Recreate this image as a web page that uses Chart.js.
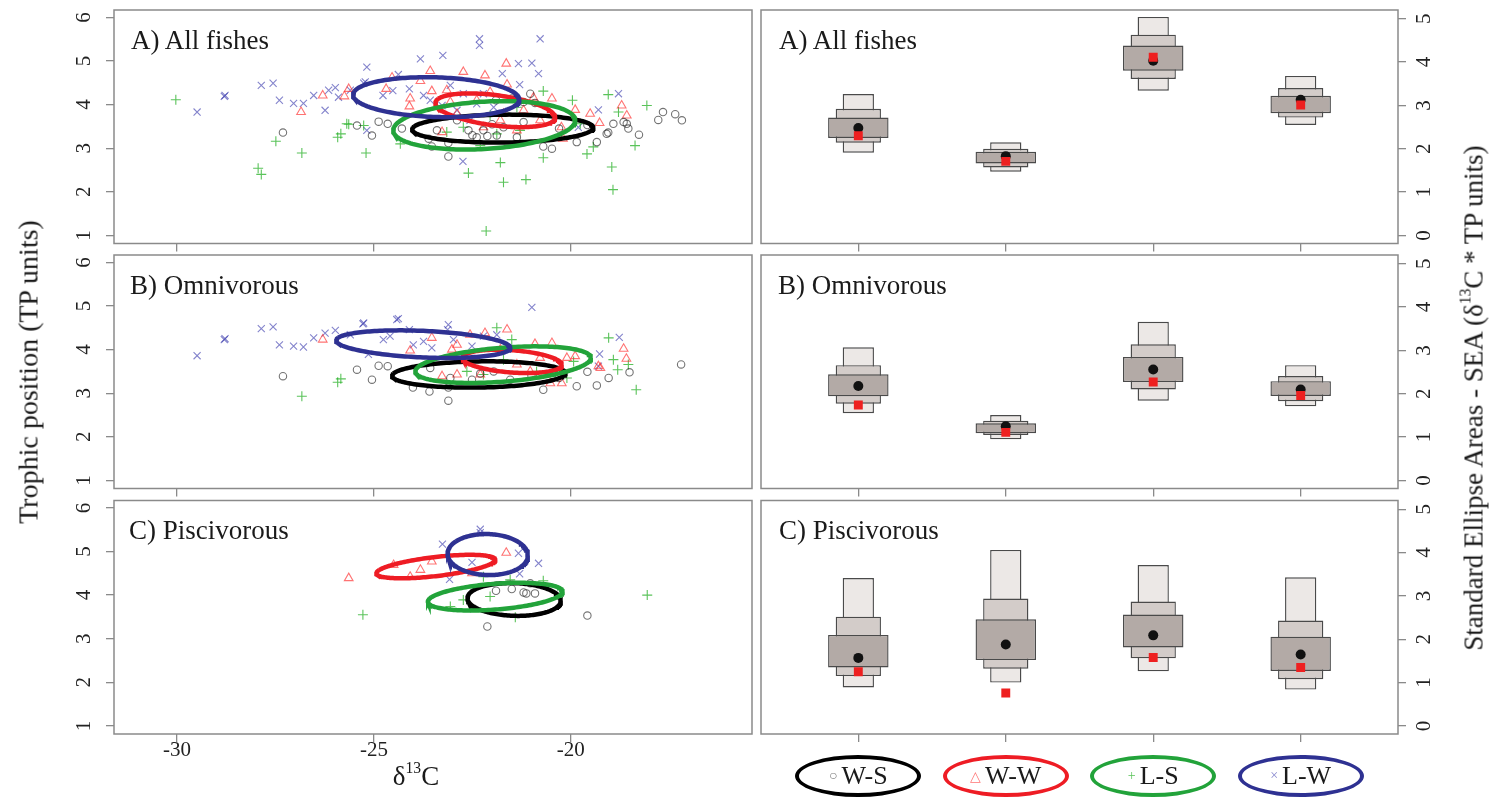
<!DOCTYPE html>
<html><head><meta charset="utf-8">
<script src="https://cdn.jsdelivr.net/npm/chart.js@4.4.0/dist/chart.umd.min.js"></script>
<style>
html,body{margin:0;padding:0;background:#fff;width:1497px;height:800px;overflow:hidden;font-family:"Liberation Serif","Times New Roman",serif;}
canvas{position:absolute;left:0;top:0;}
.lbl{position:absolute;font-size:27px;color:#1a1a1a;white-space:nowrap;line-height:27px;}
.title{position:absolute;font-size:27px;color:#1a1a1a;white-space:nowrap;line-height:27px;transform:translate(-50%,-50%);}
.rot{transform:translate(-50%,-50%) rotate(-90deg);}
sup{font-size:58%;vertical-align:0.75em;line-height:0;}
.leg{position:absolute;width:118px;height:34px;border-radius:50%;border:4.5px solid #000;transform:translate(-50%,-50%);display:flex;align-items:center;justify-content:center;font-size:26px;color:#1a1a1a;}
.leg .m{font-size:14px;margin-right:4px;}
</style></head><body>
<canvas id="lA" width="1497" height="800"></canvas>
<canvas id="lB" width="1497" height="800"></canvas>
<canvas id="lC" width="1497" height="800"></canvas>
<canvas id="rA" width="1497" height="800"></canvas>
<canvas id="rB" width="1497" height="800"></canvas>
<canvas id="rC" width="1497" height="800"></canvas>
<div class="lbl" style="left:131px;top:27px">A) All fishes</div>
<div class="lbl" style="left:130px;top:272px">B) Omnivorous</div>
<div class="lbl" style="left:129px;top:517px">C) Piscivorous</div>
<div class="lbl" style="left:779px;top:27px">A) All fishes</div>
<div class="lbl" style="left:778px;top:272px">B) Omnivorous</div>
<div class="lbl" style="left:779px;top:517px">C) Piscivorous</div>
<div class="title rot" style="left:28px;top:372px;font-size:28px">Trophic position (TP units)</div>
<div class="title" style="left:416px;top:776px">δ<sup>13</sup>C</div>
<div class="title rot" style="left:1474px;top:398px">Standard Ellipse Areas - SEA (δ<sup>13</sup>C * TP units)</div>
<div id="legend"></div>
<script>
// ---------- groups ----------
const groups = ['W-S', 'W-W', 'L-S', 'L-W'];
const groupColors = ['#000000', '#ee1c24', '#22a33a', '#2e3192'];
const pointColors = ['rgba(0,0,0,0.55)', 'rgba(255,40,40,0.65)', 'rgba(20,170,20,0.7)', 'rgba(50,50,170,0.6)'];
const pointStyles = ['circle', 'triangle', 'cross', 'crossRot'];
const legendMarks = ['○', '△', '+', '×'];

// ---------- axes ----------
const xTicks = [-30, -25, -20];
const xTickLabels = ['-30', '-25', '-20'];
const tpTicks = [1, 2, 3, 4, 5, 6];
const seaTicks = [0, 1, 2, 3, 4, 5];

// ---------- A) All fishes: points [d13C, TP] ----------
const A_WS = [[-27.31,3.36],[-25.43,3.52],[-25.05,3.29],[-24.88,3.61],[-24.65,3.56],[-24.29,3.45],[-23.61,3.22],[-23.11,3.12],[-23.11,2.81],[-23.53,3.04],[-21.03,4.25],[-22.60,3.41],[-22.22,3.41],[-21.88,3.29],[-21.37,3.25],[-20.70,3.04],[-20.48,2.99],[-19.85,3.14],[-19.34,3.14],[-19.09,3.33],[-22.89,3.64],[-21.71,3.48],[-22.39,3.25],[-23.40,3.41],[-17.66,3.83],[-17.35,3.78],[-17.18,3.64],[-17.78,3.65],[-18.27,3.31],[-18.54,3.45],[-18.58,3.56],[-18.66,3.60],[-18.92,3.56],[-19.05,3.36],[-22.0,3.55],[-21.2,3.60],[-20.3,3.45],[-22.5,3.30],[-22.12,3.28],[-19.58,3.53],[-21.90,4.10],[-21.50,4.14],[-21.20,4.06],[-20.91,4.04]];
const A_WW = [[-26.85,3.83],[-26.30,4.21],[-25.75,4.19],[-25.64,4.36],[-24.69,4.36],[-24.54,4.62],[-23.82,4.54],[-23.57,4.77],[-22.73,4.75],[-22.18,4.67],[-21.64,4.94],[-21.62,4.46],[-23.53,4.31],[-24.08,4.14],[-24.10,3.96],[-23.15,4.33],[-23.06,4.06],[-22.39,4.10],[-22.05,4.29],[-20.95,4.16],[-20.48,4.14],[-19.89,3.88],[-19.51,3.79],[-19.27,3.58],[-20.24,3.48],[-20.20,3.22],[-23.27,3.37],[-22.89,3.79],[-21.79,3.64],[-21.37,3.41],[-20.78,3.64],[-22.22,3.48],[-21.20,3.87],[-21.71,3.79],[-18.71,3.98],[-18.58,3.75]];
const A_LS = [[-30.03,4.11],[-27.49,3.16],[-26.83,2.89],[-27.94,2.54],[-27.86,2.40],[-25.92,3.25],[-25.84,3.33],[-25.64,3.55],[-25.20,2.89],[-25.26,3.52],[-20.70,4.31],[-19.96,4.10],[-19.05,4.23],[-18.07,3.98],[-18.79,3.83],[-18.37,3.06],[-18.96,2.57],[-18.93,2.05],[-19.59,2.87],[-19.43,3.03],[-20.70,2.78],[-21.14,2.28],[-21.71,2.22],[-21.79,2.67],[-22.60,2.43],[-22.15,1.10],[-19.76,3.56],[-22.30,3.06],[-24.33,3.10],[-22.73,3.48],[-23.15,3.37],[-21.88,3.33],[-21.29,3.41],[-22.05,3.75],[-21.37,3.94],[-25.69,3.56]];
const A_LW = [[-29.49,3.83],[-28.80,4.19],[-28.78,4.21],[-27.86,4.44],[-27.56,4.49],[-27.40,4.10],[-27.04,4.03],[-26.79,4.03],[-26.53,4.21],[-26.24,3.87],[-26.15,4.33],[-25.98,4.39],[-25.90,4.17],[-25.60,4.33],[-25.26,4.49],[-25.18,4.86],[-25.18,3.41],[-25.22,4.52],[-23.82,5.05],[-23.25,5.13],[-22.32,5.51],[-22.32,5.36],[-20.78,5.51],[-21.33,4.94],[-20.99,4.95],[-20.82,4.71],[-21.74,4.71],[-21.30,4.46],[-24.38,4.69],[-24.52,4.32],[-24.77,4.21],[-24.10,4.36],[-23.74,4.21],[-23.06,4.44],[-22.73,4.25],[-22.22,4.25],[-22.39,4.02],[-21.96,3.94],[-22.89,3.87],[-23.27,3.98],[-23.57,4.10],[-22.74,2.70],[-19.30,3.88],[-19.81,3.48],[-22.56,3.64],[-18.79,4.25]];

// ---------- B) Omnivorous ----------
const B_WS = [[-27.31,3.39],[-25.43,3.54],[-24.88,3.63],[-24.65,3.62],[-25.05,3.31],[-24.01,3.13],[-23.59,3.04],[-23.11,3.13],[-23.11,2.83],[-22.51,3.31],[-20.70,3.08],[-19.85,3.16],[-19.58,3.49],[-19.34,3.18],[-19.04,3.35],[-23.57,3.58],[-21.96,3.50],[-21.54,3.31],[-23.06,3.35],[-17.20,3.66],[-18.51,3.48],[-22.30,3.45],[-21.00,3.40],[-20.30,3.35]];
const B_WW = [[-26.30,4.23],[-23.53,4.27],[-22.89,4.11],[-23.02,4.00],[-24.08,3.98],[-22.56,4.34],[-22.18,4.38],[-21.62,4.46],[-21.79,4.00],[-20.91,4.13],[-20.48,4.15],[-20.78,3.81],[-20.10,3.81],[-19.89,3.85],[-19.25,3.58],[-23.27,3.39],[-22.89,3.43],[-21.03,3.50],[-20.52,3.23],[-20.23,3.23],[-21.37,3.66],[-22.30,3.43],[-18.66,4.02],[-18.59,3.79],[-19.30,3.62]];
const B_LS = [[-26.83,2.93],[-25.92,3.25],[-25.84,3.33],[-21.88,4.50],[-21.50,4.23],[-19.93,3.73],[-19.04,4.27],[-22.64,3.50],[-22.22,3.43],[-21.71,3.77],[-20.87,3.50],[-20.10,3.35],[-18.34,3.08],[-18.54,3.66],[-18.81,3.54],[-18.92,3.77]];
const B_LW = [[-29.49,3.86],[-28.80,4.23],[-28.78,4.25],[-27.86,4.48],[-27.56,4.52],[-27.40,4.11],[-27.04,4.08],[-26.79,4.06],[-26.53,4.27],[-26.24,4.38],[-25.98,4.44],[-25.60,4.34],[-25.26,4.61],[-24.42,4.69],[-25.28,4.59],[-24.38,4.71],[-24.10,4.46],[-24.76,4.23],[-24.59,4.31],[-23.11,4.57],[-23.13,4.46],[-23.74,4.19],[-24.00,4.11],[-23.53,4.04],[-22.98,4.23],[-22.51,4.08],[-22.22,4.31],[-20.99,4.97],[-21.88,4.34],[-19.27,3.90],[-19.30,3.62],[-25.14,3.89],[-18.77,4.28]];

// ---------- C) Piscivorous ----------
const C_WS = [[-22.12,3.28],[-19.58,3.53],[-21.90,4.10],[-21.50,4.14],[-21.20,4.06],[-21.13,4.04],[-20.91,4.04],[-21.03,4.27]];
const C_WW = [[-25.64,4.39],[-21.64,4.97],[-23.82,4.58],[-24.08,4.42],[-22.51,4.50],[-23.53,4.77],[-24.50,4.69]];
const C_LS = [[-25.28,3.55],[-20.70,4.33],[-21.41,3.49],[-22.22,4.42],[-22.05,3.97],[-22.73,3.89],[-23.06,3.74],[-21.54,4.35],[-18.06,4.00]];
const C_LW = [[-22.30,5.51],[-22.30,5.43],[-23.26,5.17],[-21.33,4.96],[-20.82,4.73],[-21.30,4.49],[-23.08,4.36],[-22.51,4.75]];

// ---------- standard ellipses: [centre d13C, centre TP, half-width d13C, TP shift at tips, TP half-height] ----------
const ellA = [[-21.73,3.45,2.30,0.02,0.32],[-21.92,3.87,1.52,-0.165,0.35],[-22.20,3.525,2.31,0.115,0.543],[-23.42,4.17,2.11,-0.055,0.455]];
const ellB = [[-22.34,3.43,2.20,0.03,0.30],[-21.49,3.73,1.26,-0.08,0.256],[-21.72,3.655,2.23,0.155,0.39],[-23.75,4.125,2.21,-0.085,0.305]];
const ellC = [[-21.44,3.90,1.185,-0.03,0.375],[-23.43,4.655,1.51,0.155,0.22],[-21.92,3.965,1.71,0.115,0.296],[-22.11,4.93,1.02,-0.02,0.47]];

// ---------- SEA credible intervals [low, high] per group ----------
const seaA_95 = [[1.91,3.26],[1.47,2.15],[3.34,5.04],[2.55,3.68]];
const seaA_75 = [[2.14,2.92],[1.57,2.00],[3.61,4.63],[2.72,3.40]];
const seaA_50 = [[2.25,2.72],[1.66,1.93],[3.80,4.38],[2.82,3.22]];
const seaA_mode = [2.48,1.83,4.03,3.13];
const seaA_c = [2.30,1.71,4.11,3.01];

const seaB_95 = [[1.55,3.07],[0.95,1.51],[1.84,3.66],[1.71,2.66]];
const seaB_75 = [[1.77,2.66],[1.05,1.38],[2.10,3.14],[1.83,2.41]];
const seaB_50 = [[1.94,2.45],[1.09,1.32],[2.27,2.85],[1.95,2.29]];
const seaB_mode = [2.18,1.25,2.56,2.10];
const seaB_c = [1.74,1.11,2.27,1.96];

const seaC_95 = [[0.89,3.41],[1.00,4.06],[1.26,3.71],[0.84,3.43]];
const seaC_75 = [[1.15,2.52],[1.32,2.94],[1.56,2.87],[1.08,2.43]];
const seaC_50 = [[1.35,2.10],[1.52,2.46],[1.81,2.57],[1.27,2.06]];
const seaC_mode = [1.57,1.88,2.09,1.65];
const seaC_c = [1.25,0.76,1.58,1.35];

// ---------- layout ----------
const W = 1497, H = 800;
const rowTops = [10, 255, 500.5];
const panelH = 233.5;
const leftBox = [114, 752];
const rightBox = [761, 1398];
const axisCol = '#8a8a8a';
const tickFont = {family: '"Liberation Serif", serif', size: 21};

const framePlugin = {
  id: 'frame',
  afterDraw(chart) {
    const {ctx, chartArea: a} = chart;
    ctx.save();
    ctx.strokeStyle = axisCol;
    ctx.lineWidth = 1.5;
    ctx.strokeRect(a.left, a.top, a.right - a.left, a.bottom - a.top);
    ctx.restore();
  }
};

function fixed(size) {
  return (s) => {
    if (s.isHorizontal()) s.height = size; else s.width = size;
    s.paddingTop = 0; s.paddingBottom = 0; s.paddingLeft = 0; s.paddingRight = 0;
  };
}
function setTicks(vals) { return (s) => { s.ticks = vals.map(v => ({value: v})); }; }

function ellipsePoints(p) {
  const [cx, cy, a, b, c] = p;
  const pts = [];
  for (let i = 0; i <= 180; i++) {
    const t = 2 * Math.PI * i / 180;
    pts.push({x: cx + a * Math.cos(t), y: cy + b * Math.cos(t) + c * Math.sin(t)});
  }
  return pts;
}

function leftChart(id, row, pointSets, ells, showX) {
  const top = rowTops[row], bottom = top + panelH;
  const datasets = [];
  ells.forEach((e, i) => datasets.push({
    data: ellipsePoints(e), showLine: true, pointRadius: 0, borderColor: groupColors[i],
    borderWidth: 4.5, fill: false, tension: 0, order: 4 - i
  }));
  pointSets.forEach((set, i) => datasets.push({
    data: set.map(p => ({x: p[0], y: p[1]})), showLine: false, pointStyle: pointStyles[i],
    pointRadius: i === 0 ? 3.7 : 5, borderColor: pointColors[i], backgroundColor: 'rgba(0,0,0,0)',
    pointBorderWidth: 1.1, order: 10 + i
  }));
  return new Chart(document.getElementById(id), {
    type: 'scatter',
    data: {datasets},
    options: {
      responsive: false, animation: false, events: [],
      layout: {padding: {left: leftBox[0] - 60, right: W - leftBox[1], top: top, bottom: H - bottom - 40}},
      plugins: {legend: {display: false}, tooltip: {enabled: false}},
      scales: {
        x: {type: 'linear', position: 'bottom', min: -31.6, max: -15.4,
            afterFit: fixed(40), afterBuildTicks: setTicks(xTicks),
            border: {display: false},
            grid: {drawOnChartArea: false, drawTicks: true, tickLength: 8, color: axisCol, lineWidth: 1.3},
            ticks: {display: showX, autoSkip: false, padding: -4, font: tickFont, color: '#222',
                    maxRotation: 0, callback: (v) => xTickLabels[xTicks.indexOf(v)]}},
        y: {type: 'linear', position: 'left', min: 0.815, max: 6.17,
            afterFit: fixed(60), afterBuildTicks: setTicks(tpTicks),
            border: {display: false},
            grid: {drawOnChartArea: false, drawTicks: true, tickLength: 8, color: axisCol, lineWidth: 1.3},
            ticks: {autoSkip: false, minRotation: 90, maxRotation: 90, crossAlign: 'center', padding: 16,
                    font: tickFont, color: '#222', callback: (v) => String(v)}}
      }
    },
    plugins: [framePlugin]
  });
}

function rightChart(id, row, s95, s75, s50, mode, seac) {
  const top = rowTops[row], bottom = top + panelH;
  const box = (arr, pct, fill, ord) => ({
    type: 'bar', data: arr.map((r, i) => ({x: i + 1, y: r})), backgroundColor: fill,
    borderColor: '#4a4a4a', borderWidth: 1.4, borderSkipped: false, grouped: false,
    barPercentage: pct, categoryPercentage: 1, order: ord
  });
  return new Chart(document.getElementById(id), {
    type: 'bar',
    data: {datasets: [
      {type: 'scatter', data: seac.map((v, i) => ({x: i + 1, y: v})), pointStyle: 'rect', pointRadius: 6.3,
       backgroundColor: '#ee2020', borderWidth: 0, order: 0},
      {type: 'scatter', data: mode.map((v, i) => ({x: i + 1, y: v})), pointStyle: 'circle', pointRadius: 5,
       backgroundColor: '#111', borderWidth: 0, order: 1},
      box(s50, 0.41, '#b3aaa6', 2),
      box(s75, 0.307, '#d3ccc9', 3),
      box(s95, 0.212, '#ece8e6', 4)
    ]},
    options: {
      responsive: false, animation: false, events: [],
      layout: {padding: {left: rightBox[0], right: W - rightBox[1] - 60, top: top, bottom: H - bottom - 40}},
      plugins: {legend: {display: false}, tooltip: {enabled: false}},
      scales: {
        x: {type: 'linear', position: 'bottom', min: 0.34, max: 4.66, offset: false,
            afterFit: fixed(40), afterBuildTicks: setTicks([1, 2, 3, 4]),
            border: {display: false},
            grid: {drawOnChartArea: false, drawTicks: true, tickLength: 8, color: axisCol, lineWidth: 1.3, offset: false},
            ticks: {display: false}},
        y: {type: 'linear', position: 'right', min: -0.185, max: 5.2,
            afterFit: fixed(60), afterBuildTicks: setTicks(seaTicks),
            border: {display: false},
            grid: {drawOnChartArea: false, drawTicks: true, tickLength: 8, color: axisCol, lineWidth: 1.3},
            ticks: {autoSkip: false, minRotation: 90, maxRotation: 90, crossAlign: 'center', padding: 13,
                    font: tickFont, color: '#222', callback: (v) => String(v)}}
      }
    },
    plugins: [framePlugin]
  });
}

leftChart('lA', 0, [A_WS, A_WW, A_LS, A_LW], ellA, false);
leftChart('lB', 1, [B_WS, B_WW, B_LS, B_LW], ellB, false);
leftChart('lC', 2, [C_WS, C_WW, C_LS, C_LW], ellC, true);
rightChart('rA', 0, seaA_95, seaA_75, seaA_50, seaA_mode, seaA_c);
rightChart('rB', 1, seaB_95, seaB_75, seaB_50, seaB_mode, seaB_c);
const rc = rightChart('rC', 2, seaC_95, seaC_75, seaC_50, seaC_mode, seaC_c);

// legend under the right-hand panels, placed on the group positions
const legend = document.getElementById('legend');
groups.forEach((g, i) => {
  const d = document.createElement('div');
  d.className = 'leg';
  d.style.left = rc.scales.x.getPixelForValue(i + 1) + 'px';
  d.style.top = '776px';
  d.style.borderColor = groupColors[i];
  d.innerHTML = '<span class="m" style="color:' + pointColors[i] + '">' + legendMarks[i] + '</span>' + g;
  legend.appendChild(d);
});
</script>
</body></html>
